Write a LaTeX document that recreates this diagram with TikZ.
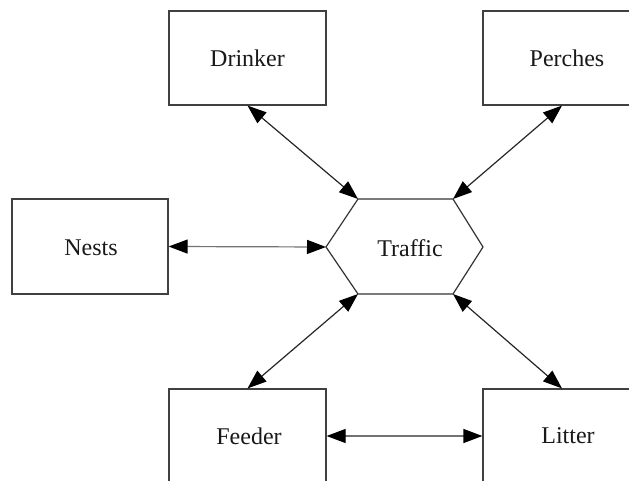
\documentclass[tikz,border=0pt]{standalone}
\usepackage{fontspec}
\setmainfont{Liberation Serif}
\usetikzlibrary{arrows.meta}
\begin{document}
\begin{tikzpicture}[x=1pt,y=-1pt,
  box/.style={draw=black!75,line width=1.2pt,rectangle,inner sep=0pt,minimum width=157pt,minimum height=94pt,
    font=\fontsize{24}{28}\selectfont,text=black!90},
  lbl/.style={font=\fontsize{24}{28}\selectfont,text=black!90},
  link/.style={{Triangle[length=19pt,width=14pt,color=black]}-{Triangle[length=19pt,width=14pt,color=black]},line width=1.2pt,draw=black!85},
  hexline/.style={draw=black!80,line width=1.2pt,line join=miter}]
\useasboundingbox (0,0) rectangle (629,481);
\fill[white] (0,0) rectangle (629,481);
% boxes
\node[box] (drinker) at (247.5,58) {Drinker};
\node[box,minimum width=168pt] (perches) at (567,58) {Perches};
\node[box,minimum width=156pt,minimum height=95pt] (nests) at (90,246.5) {};
\node[lbl] at (91,248) {Nests};
\node[box] (feeder) at (247.5,436) {};
\node[lbl] at (249,436) {Feeder};
\node[box,minimum width=168pt] (litter) at (567,436) {};
\node[lbl] at (568,436) {Litter};
% hexagon
\coordinate (l) at (326,247);
\coordinate (tl) at (358,199);
\coordinate (tr) at (453,199);
\coordinate (r) at (483,247);
\coordinate (br) at (453,294);
\coordinate (bl) at (358,294);
\draw[hexline] (l) -- (tl) -- (tr) -- (r) -- (br) -- (bl) -- cycle;
\node[lbl] (traffic) at (410,248) {Traffic};
% connectors
\draw[link] (drinker.south) -- (tl);
\draw[link] ([xshift=-5pt]perches.south) -- (tr);
\draw[link,draw=black!55] (nests.east) -- (l);
\draw[link] (feeder.north) -- (bl);
\draw[link] ([xshift=-5pt]litter.north) -- (br);
\draw[link,draw=black!55] (feeder.east) -- (litter.west);
\end{tikzpicture}
\end{document}
